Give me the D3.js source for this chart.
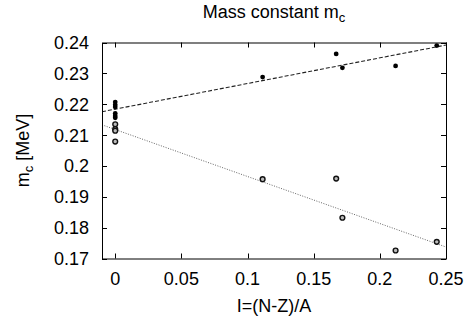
<!DOCTYPE html>
<html>
<head>
<meta charset="utf-8">
<style>
  body { margin: 0; background: #fff; }
  svg text { font-family: "Liberation Sans", Arial, sans-serif; fill: #000; }
</style>
</head>
<body>
<svg id="graph"></svg>
<script src="https://cdn.jsdelivr.net/npm/d3@7"></script>
<script>

// filled points (upper set) and open points (lower set), I=(N-Z)/A vs m_c
var filledI  = [0, 0, 0, 0, 0, 0, 0.1114, 0.167, 0.1717, 0.2119, 0.243];
var filledMc = [0.2207, 0.2198, 0.2191, 0.2170, 0.2162, 0.2156, 0.2288, 0.2363, 0.2318, 0.2324, 0.2390];
var openI    = [0, 0, 0, 0, 0.1114, 0.167, 0.1717, 0.2119, 0.243];
var openMc   = [0.2135, 0.2119, 0.2114, 0.2079, 0.1957, 0.1959, 0.1832, 0.1726, 0.1754];

// linear fits: [intercept, slope]
var fitFilled = [0.2184, 0.0831];
var fitOpen   = [0.2118, -0.1523];

var xTicks = [0, 0.05, 0.1, 0.15, 0.2, 0.25];
var yTicks = [0.17, 0.18, 0.19, 0.2, 0.21, 0.22, 0.23, 0.24];

var W = 467, H = 326;
var margin = {top: 42.5, right: 21, bottom: 67.5, left: 102};

var x = d3.scaleLinear().domain([-0.01, 0.25]).range([margin.left, W - margin.right]);
var y = d3.scaleLinear().domain([0.17, 0.24]).range([H - margin.bottom, margin.top]);

var svg = d3.select('#graph').attr('width', W).attr('height', H);

var fs = 18;
var tickLen = 5;

// ticks (mirrored on all sides, pointing inward)
var tk = svg.append('g').attr('stroke', '#000').attr('stroke-width', 1);
xTicks.forEach(function(t) {
	var px = Math.round(x(t)) + 0.5;
	tk.append('line').attr('x1', px).attr('x2', px).attr('y1', y.range()[0]).attr('y2', y.range()[0] - tickLen);
	tk.append('line').attr('x1', px).attr('x2', px).attr('y1', y.range()[1]).attr('y2', y.range()[1] + tickLen);
});
yTicks.forEach(function(t) {
	var py = Math.round(y(t)) + 0.5;
	tk.append('line').attr('x1', x.range()[0]).attr('x2', x.range()[0] + tickLen).attr('y1', py).attr('y2', py);
	tk.append('line').attr('x1', x.range()[1]).attr('x2', x.range()[1] - tickLen).attr('y1', py).attr('y2', py);
});

// tick labels
svg.append('g').selectAll('text').data(xTicks).enter().append('text')
	.attr('x', d => x(d)).attr('y', 285)
	.attr('text-anchor', 'middle').attr('font-size', fs)
	.text(d => d3.format('')(d));
svg.append('g').selectAll('text').data(yTicks).enter().append('text')
	.attr('x', 89).attr('y', d => y(d)).attr('dy', '0.36em')
	.attr('text-anchor', 'end').attr('font-size', fs)
	.text(d => d3.format('')(d));

// fit lines
var line = d3.line().x(d => x(d[0])).y(d => y(d[1]));
function fitPts(f) { return x.domain().map(v => [v, f[0] + f[1] * v]); }
svg.append('path').attr('d', line(fitPts(fitFilled)))
	.attr('fill', 'none').attr('stroke', '#222').attr('stroke-width', 1.1)
	.attr('stroke-dasharray', '4,2');
svg.append('path').attr('d', line(fitPts(fitOpen)))
	.attr('fill', 'none').attr('stroke', '#666').attr('stroke-width', 1)
	.attr('stroke-dasharray', '1,1.5');

// points
svg.append('g').selectAll('circle').data(d3.range(filledI.length)).enter().append('circle')
	.attr('cx', i => x(filledI[i])).attr('cy', i => y(filledMc[i]))
	.attr('r', 2.4).attr('fill', '#000');
svg.append('g').selectAll('circle').data(d3.range(openI.length)).enter().append('circle')
	.attr('cx', i => x(openI[i])).attr('cy', i => y(openMc[i]))
	.attr('r', 2.4).attr('fill', '#bbb').attr('stroke', '#111').attr('stroke-width', 1.4);

// border
svg.append('rect')
	.attr('x', x.range()[0] + 0.5).attr('y', y.range()[1] + 0.5)
	.attr('width', x.range()[1] - x.range()[0]).attr('height', y.range()[0] - y.range()[1])
	.attr('fill', 'none').attr('stroke', '#000').attr('stroke-width', 1);

// title
var title = svg.append('text').attr('x', 274).attr('y', 18)
	.attr('text-anchor', 'middle').attr('font-size', 18);
title.append('tspan').text('Mass constant m');
title.append('tspan').attr('font-size', 13).attr('dy', 4).text('c');

// axis labels
svg.append('text').attr('x', 274).attr('y', 312)
	.attr('text-anchor', 'middle').attr('font-size', fs)
	.text('I=(N-Z)/A');
var yl = svg.append('text').attr('transform', 'translate(29,' + (H - margin.bottom + margin.top) / 2 + ') rotate(-90)')
	.attr('text-anchor', 'middle').attr('font-size', fs);
yl.append('tspan').text('m');
yl.append('tspan').attr('font-size', 13).attr('dy', 4).text('c');
yl.append('tspan').attr('dy', -4).text(' [MeV]');

</script>
</body>
</html>
